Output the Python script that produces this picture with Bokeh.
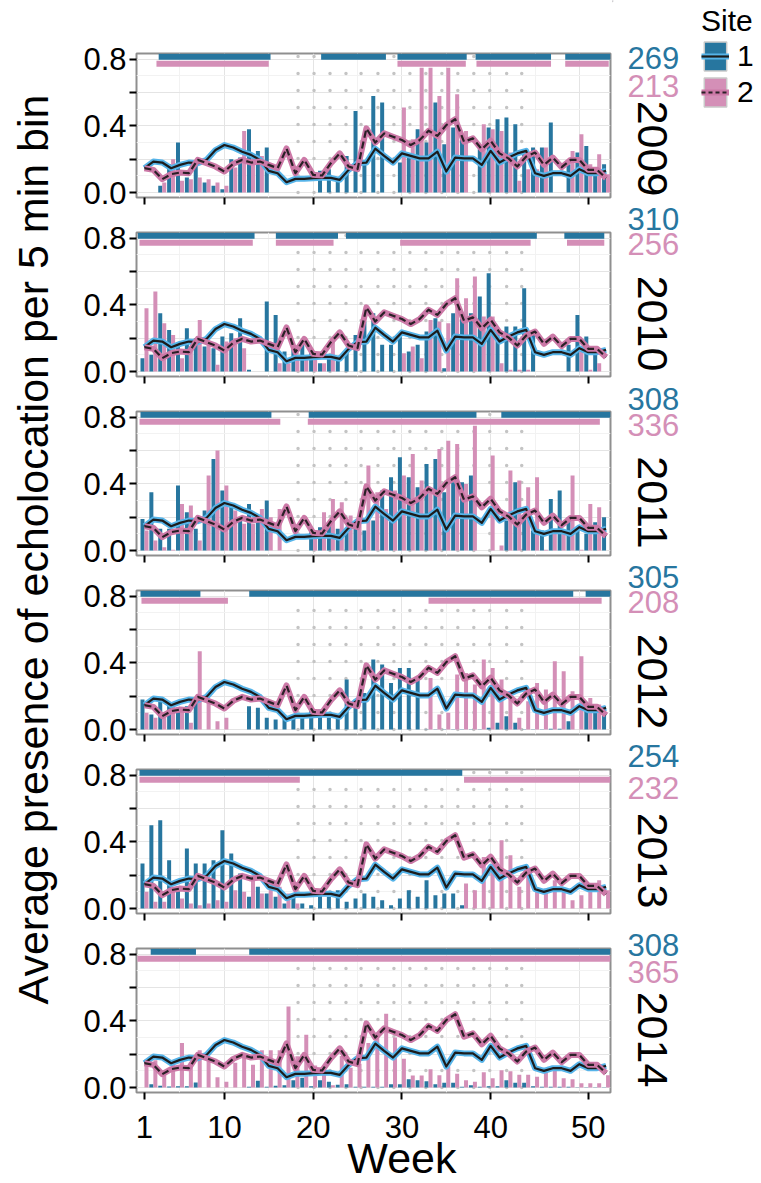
import math
import numpy as np
from bokeh.plotting import figure
from bokeh.layouts import column, row
from bokeh.core.properties import value
from bokeh.models import (FixedTicker, PrintfTickFormatter, Label, Legend, LegendItem, Range1d)
from bokeh.embed import file_html
from bokeh.resources import INLINE

WEEKS = list(range(1, 54))
YEARS = [2009, 2010, 2011, 2012, 2013, 2014]
N_SITE1 = [269, 310, 308, 305, 254, 308]
N_SITE2 = [213, 256, 336, 208, 232, 365]

AVG_SITE1 = [0.146, 0.186, 0.18, 0.146, 0.166, 0.18, 0.176, 0.196, 0.255, 0.285,
             0.27, 0.245, 0.226, 0.196, 0.13, 0.116, 0.062, 0.082, 0.082, 0.086,
             0.088, 0.088, 0.076, 0.136, 0.176, 0.18, 0.263, 0.22, 0.18, 0.235,
             0.22, 0.205, 0.205, 0.245, 0.126, 0.21, 0.205, 0.205, 0.166, 0.25,
             0.18, 0.21, 0.235, 0.25, 0.116, 0.1, 0.116, 0.116, 0.1, 0.14,
             0.116, 0.116, 0.13]
AVG_SITE2 = [0.146, 0.136, 0.08, 0.11, 0.12, 0.116, 0.196, 0.176, 0.156, 0.126,
             0.172, 0.196, 0.18, 0.186, 0.166, 0.146, 0.265, 0.116, 0.196, 0.106,
             0.102, 0.176, 0.235, 0.156, 0.14, 0.385, 0.3, 0.355, 0.335, 0.315,
             0.285, 0.315, 0.371, 0.34, 0.405, 0.44, 0.305, 0.325, 0.26, 0.311,
             0.235, 0.205, 0.156, 0.216, 0.24, 0.166, 0.21, 0.152, 0.196, 0.196,
             0.136, 0.136, 0.086]

N = None
S1_2009 = [N, N, 0.04, 0.17, 0.30, 0.09, 0.17, 0.06, 0.04, 0.02,
           0.20, 0.21, 0.38, 0.25, 0.27, N, N, N, N, N,
           0.13, 0.14, 0.07, 0.22, 0.49, 0.18, 0.58, 0.54, N, 0.18,
           0.21, 0.38, 0.30, 0.54, 0.29, 0.39, 0.32, N, 0.26, 0.39,
           0.44, 0.45, 0.41, 0.26, 0.27, 0.27, 0.42, N, 0.17, 0.24,
           0.28, 0.15, 0.17]
S2_2009 = [N, N, 0.06, 0.20, 0.07, 0.08, 0.09, 0.08, 0.06, 0.04,
           0.15, 0.37, 0.22, 0.22, N, N, N, N, N, N,
           N, N, N, N, N, N, N, N, N, 0.51,
           0.32, 0.75, 0.75, 0.58, 0.75, 0.59, 0.37, N, 0.41, 0.38,
           0.37, 0.24, 0.07, 0.14, 0.14, 0.27, N, N, 0.25, 0.35,
           0.17, 0.23, 0.11]
S1_2010 = [0.08, 0.10, 0.35, 0.25, 0.15, 0.26, 0.20, 0.15, 0.14, 0.21,
           0.23, 0.32, 0.01, N, 0.42, 0.34, 0.12, 0.15, 0.17, 0.13,
           0.05, 0.10, 0.07, 0.12, 0.22, 0.30, 0.35, 0.16, 0.16, 0.21,
           0.12, 0.16, 0.24, 0.32, 0.02, 0.35, 0.33, 0.35, 0.45, 0.59,
           0.23, 0.27, 0.27, 0.50, 0.22, N, N, N, 0.16, 0.34,
           0.21, 0.13, N]
S2_2010 = [0.38, 0.48, 0.29, 0.22, 0.08, 0.13, 0.31, 0.16, 0.04, 0.18,
           0.20, 0.14, N, N, N, 0.05, 0.05, 0.07, 0.07, 0.07,
           0.05, 0.20, N, N, N, N, N, N, N, 0.11,
           0.15, 0.08, 0.31, 0.30, 0.29, 0.56, 0.44, 0.57, 0.33, 0.33,
           0.05, 0.01, 0.01, 0.01, N, N, N, N, N, 0.12,
           0.01, 0.05, N]
S1_2011 = [0.19, 0.35, 0.13, 0.13, 0.39, 0.23, 0.13, 0.24, 0.55, 0.36,
           0.27, 0.18, 0.28, 0.21, 0.30, N, N, N, N, 0.11,
           0.14, 0.15, 0.13, 0.11, 0.13, 0.12, 0.18, 0.36, 0.44, 0.56,
           0.44, 0.38, 0.52, 0.55, 0.35, 0.41, 0.41, 0.45, N, N,
           N, 0.18, 0.41, 0.20, 0.12, 0.12, 0.31, 0.36, 0.20, 0.14,
           0.10, 0.17, 0.20]
S2_2011 = [0.12, 0.06, 0.02, 0.005, 0.28, 0.27, 0.06, 0.45, 0.60, 0.39,
           0.24, 0.16, 0.16, 0.25, 0.20, 0.25, N, N, N, 0.11,
           0.23, 0.31, 0.29, 0.21, 0.19, 0.51, 0.35, 0.25, 0.36, 0.45,
           0.58, 0.42, 0.37, 0.61, 0.66, 0.64, 0.40, 0.75, N, 0.57,
           0.03, 0.48, 0.42, 0.38, 0.44, 0.005, 0.12, 0.12, 0.45, 0.005,
           0.28, 0.26, N]
S1_2012 = [0.18, 0.09, 0.17, 0.16, 0.13, 0.14, 0.16, N, N, N,
           N, N, 0.14, 0.13, 0.07, 0.06, 0.07, 0.07, 0.07, 0.13,
           0.12, 0.07, 0.07, 0.30, 0.18, 0.22, 0.42, 0.39, 0.28, 0.37,
           0.37, 0.30, 0.002, 0.002, 0.002, 0.002, 0.002, 0.002, 0.002, 0.01,
           0.04, 0.08, 0.04, 0.002, 0.002, 0.002, 0.004, 0.004, 0.05, N,
           0.12, 0.12, 0.14]
S2_2012 = [0.10, 0.07, 0.10, 0.14, 0.13, 0.04, 0.47, 0.17, 0.05, 0.07,
           N, N, N, N, N, N, N, N, N, N,
           N, N, N, N, N, N, N, N, N, N,
           N, N, 0.31, 0.09, 0.10, 0.33, 0.34, 0.27, 0.42, 0.37,
           0.30, 0.18, 0.07, 0.17, 0.28, 0.24, 0.41, 0.35, 0.23, 0.44,
           0.19, 0.15, N]
S1_2013 = [0.27, 0.50, 0.53, 0.29, 0.11, 0.36, 0.27, 0.27, 0.29, 0.47,
           0.33, 0.21, 0.07, 0.13, 0.09, 0.07, 0.03, 0.07, 0.03, 0.02,
           0.08, 0.07, 0.11, 0.04, 0.06, 0.09, 0.07, 0.05, 0.02, 0.06,
           0.11, 0.07, 0.17, 0.08, 0.09, 0.09, 0.02, N, N, N,
           N, N, N, N, N, N, N, N, N, N,
           N, N, N]
S2_2013 = [0.10, 0.04, 0.04, 0.11, 0.06, 0.03, 0.02, 0.03, 0.05, 0.04,
           0.11, 0.10, 0.17, 0.09, 0.13, 0.13, 0.09, 0.03, N, N,
           N, N, N, N, N, N, N, N, N, N,
           N, N, N, N, N, N, 0.15, 0.11, 0.31, 0.27,
           0.41, 0.32, 0.13, 0.21, 0.10, 0.12, 0.17, 0.10, 0.05, 0.08,
           0.11, 0.17, 0.11]
S1_2014 = [N, 0.02, 0.01, 0.006, 0.008, 0.008, 0.03, N, N, N,
           N, N, 0.004, 0.04, 0.004, 0.01, 0.014, 0.044, 0.058, 0.008,
           0.044, 0.034, 0.016, 0.02, 0.004, 0.004, 0.004, 0.004, 0.02, 0.02,
           0.05, 0.044, 0.038, 0.02, 0.028, 0.028, 0.004, 0.014, 0.004, 0.008,
           0.008, 0.044, 0.028, 0.028, 0.008, 0.004, 0.004, 0.004, 0.004, 0.002,
           0.002, 0.002, 0.002]
S2_2014 = [0.168, 0.164, 0.082, 0.164, 0.267, 0.152, 0.224, 0.158, 0.062, 0.034,
           0.148, 0.198, 0.136, 0.224, 0.224, 0.224, 0.487, 0.188, 0.317, 0.132,
           0.118, 0.014, 0.19, 0.118, 0.142, 0.267, 0.303, 0.443, 0.301, 0.172,
           0.072, 0.072, 0.11, 0.074, 0.128, 0.082, 0.044, 0.034, 0.092, 0.056,
           0.104, 0.098, 0.076, 0.076, 0.064, 0.092, 0.108, 0.056, 0.05, 0.026,
           0.026, 0.026, 0.074]

# recording coverage (start week, end week)
COV1_2009 = [(2.6, 15.2), (20.9, 28.2), (29.5, 37.3), (38.3, 46.8), (48.4, 53.5)]
COV2_2009 = [(2.35, 15.0), (29.5, 37.2), (38.4, 46.8), (48.4, 53.3)]
COV1_2010 = [(0.25, 13.4), (15.8, 22.8), (23.7, 45.2), (48.3, 52.8)]
COV2_2010 = [(0.44, 13.2), (15.8, 22.3), (29.8, 44.5), (48.6, 52.8)]
COV1_2011 = [(0.55, 15.3), (19.5, 38.4), (41.2, 53.5)]
COV2_2011 = [(0.44, 16.3), (19.4, 52.3)]
COV1_2012 = [(0.55, 7.3), (12.8, 49.3), (50.7, 53.5)]
COV2_2012 = [(0.66, 10.4), (33.0, 52.5)]
COV1_2013 = [(0.44, 36.8)]
COV2_2013 = [(0.44, 18.5), (37.0, 53.5)]
COV1_2014 = [(1.7, 6.8), (12.8, 53.5)]
COV2_2014 = [(0.2, 53.5)]

X_TICKS = [1, 10, 20, 30, 40, 51]
X_TICK_LABELS = ["1", "10", "20", "30", "40", "50"]
DOT_WEEKS = [18.3, 20.1, 21.9, 23.7, 25.4, 27.3, 29.1, 30.9, 32.7, 34.5, 36.3, 38.1, 39.9, 41.8, 43.5]

SITE1_BARS = [S1_2009, S1_2010, S1_2011, S1_2012, S1_2013, S1_2014]
SITE2_BARS = [S2_2009, S2_2010, S2_2011, S2_2012, S2_2013, S2_2014]
SITE1_COV = [COV1_2009, COV1_2010, COV1_2011, COV1_2012, COV1_2013, COV1_2014]
SITE2_COV = [COV2_2009, COV2_2010, COV2_2011, COV2_2012, COV2_2013, COV2_2014]

# label placement in the right-hand strip (pixels from the top of the page)
COUNT_Y1 = [57, 218, 398, 576, 755, 944]
COUNT_Y2 = [85, 243, 424, 601, 787, 971]
YEAR_Y = [148, 323, 502, 681, 860, 1039]

BLUE = "#27769f"
PINK = "#d48fb7"
HALO1 = "#56B4E9"
HALO2 = "#CC79A7"
FONT = "Liberation Sans"

YMIN, YMAX = -0.03, 0.835
XMIN, XMAX = 0.1, 53.5
FRAME_H = 144
PAGE_W, PAGE_H = 761, 1183
LEFT_W = 64
PANEL_W = 548
RIGHT_W = PAGE_W - LEFT_W - PANEL_W


def arr(v):
    return np.array(v, dtype=float)


panels = []
for i, year in enumerate(YEARS):
    first = i == 0
    last = i == len(YEARS) - 1
    top_b = 53 if first else 14
    bot_b = 13 if last else 21
    p = figure(width=PANEL_W, height=top_b + FRAME_H + bot_b,
               x_range=Range1d(XMIN, XMAX), y_range=Range1d(YMIN, YMAX),
               output_backend="svg", toolbar_location=None,
               min_border_left=72, min_border_right=2,
               min_border_top=top_b, min_border_bottom=bot_b)
    p.outline_line_color = "#8f8f8f"
    p.outline_line_width = 2
    p.background_fill_color = "white"
    p.border_fill_color = "white"

    p.xgrid.ticker = FixedTicker(ticks=[10, 20, 30, 40, 50], minor_ticks=[5, 15, 25, 35, 45])
    p.xgrid.grid_line_color = "#e4e4e4"
    p.xgrid.minor_grid_line_color = "#f2f2f2"
    p.ygrid.ticker = FixedTicker(ticks=[0, 0.2, 0.4, 0.6, 0.8], minor_ticks=[0.1, 0.3, 0.5, 0.7])
    p.ygrid.grid_line_color = "#e4e4e4"
    p.ygrid.minor_grid_line_color = "#f2f2f2"

    # dotted season columns
    p.segment(x0=DOT_WEEKS, y0=[0.0] * len(DOT_WEEKS), x1=DOT_WEEKS, y1=[YMAX] * len(DOT_WEEKS),
              line_color="#c4c4c4", line_width=3.5, line_dash="0 17", line_cap="round")

    # coverage bars
    c1 = SITE1_COV[i]
    c2 = SITE2_COV[i]
    p.quad(left=[a for a, b in c1], right=[b for a, b in c1], bottom=0.797, top=0.833,
           fill_color=BLUE, line_color=None)
    p.quad(left=[a for a, b in c2], right=[b for a, b in c2], bottom=0.756, top=0.791,
           fill_color=PINK, line_color=None)

    wk = arr(WEEKS)
    p.vbar(x=wk - 0.225, width=0.45, top=arr(SITE1_BARS[i]), bottom=0,
           fill_color=BLUE, line_color=None)
    p.vbar(x=wk + 0.225, width=0.45, top=arr(SITE2_BARS[i]), bottom=0,
           fill_color=PINK, line_color=None)

    p.line(WEEKS, AVG_SITE1, line_color=HALO1, line_width=6, line_join="round")
    p.line(WEEKS, AVG_SITE1, line_color="#1c1c1c", line_width=2.2, line_join="round")
    p.line(WEEKS, AVG_SITE2, line_color=HALO2, line_width=6, line_join="round")
    p.line(WEEKS, AVG_SITE2, line_color="#2a2027", line_width=2.2, line_dash="7 4",
           line_join="round")

    # axes
    p.yaxis.ticker = FixedTicker(ticks=[0, 0.4, 0.8], minor_ticks=[0.2, 0.6])
    p.yaxis.formatter = PrintfTickFormatter(format="%.1f")
    p.xaxis.ticker = FixedTicker(ticks=X_TICKS, minor_ticks=[])
    for ax in (p.xaxis, p.yaxis):
        ax.axis_line_color = None
        ax.major_tick_line_color = "black"
        ax.major_tick_line_width = 2
        ax.major_tick_out = 7
        ax.major_tick_in = 0
        ax.minor_tick_line_color = "black"
        ax.minor_tick_line_width = 2
        ax.minor_tick_out = 7
        ax.minor_tick_in = 0
        ax.major_label_text_font = FONT
        ax.major_label_text_color = "black"
        ax.major_label_text_font_size = "31px"
    p.yaxis.major_label_standoff = 3
    p.xaxis.minor_tick_line_color = None
    p.xaxis.major_label_overrides = {t: "" for t in X_TICKS}
    p.xaxis.major_label_text_font_size = "0px"
    p.xaxis.major_label_standoff = 0
    panels.append(p)

used_h = sum(pp.height for pp in panels)
WF_H = PAGE_H - used_h

# week tick labels and x-axis title strip, sharing the panels' week scale
wf = figure(width=PANEL_W, height=WF_H, x_range=Range1d(XMIN, XMAX),
            y_range=Range1d(WF_H, 0), output_backend="svg", toolbar_location=None,
            min_border_left=72, min_border_right=2, min_border_top=0, min_border_bottom=0,
            x_axis_location=None, y_axis_location=None)
wf.grid.visible = False
wf.outline_line_color = None
wf.text(x=X_TICKS, y=[21] * len(X_TICKS), text=X_TICK_LABELS, text_font=value(FONT),
        text_font_size="31px", text_color="black", text_align="center", text_baseline="middle")
wf.text(x=[30.0], y=[52], text=["Week"], text_font=value(FONT),
        text_font_size="43px", text_color="black", text_align="center", text_baseline="middle")

# y-axis title strip
yl = figure(width=LEFT_W, height=PAGE_H, x_range=Range1d(0, LEFT_W), y_range=Range1d(PAGE_H, 0),
            output_backend="svg", toolbar_location=None, min_border=0,
            x_axis_location=None, y_axis_location=None)
yl.grid.visible = False
yl.outline_line_color = None
yl.add_layout(Label(x=32, y=549, text="Average presence of echolocation per 5 min bin",
                    text_font=FONT, text_font_size="43px", text_color="black",
                    text_align="center", text_baseline="middle", angle=math.pi / 2))

# right strip: counts, years, legend
rf = figure(width=RIGHT_W, height=PAGE_H, x_range=Range1d(0, RIGHT_W), y_range=Range1d(PAGE_H, 0),
            output_backend="svg", toolbar_location=None, min_border=0,
            x_axis_location=None, y_axis_location=None)
rf.grid.visible = False
rf.outline_line_color = None
for i, year in enumerate(YEARS):
    rf.add_layout(Label(x=15, y=COUNT_Y1[i], text=str(N_SITE1[i]), text_color=BLUE,
                        text_font=FONT, text_font_size="31px", text_align="left",
                        text_baseline="middle"))
    rf.add_layout(Label(x=15, y=COUNT_Y2[i], text=str(N_SITE2[i]), text_color=PINK,
                        text_font=FONT, text_font_size="31px", text_align="left",
                        text_baseline="middle"))
    rf.add_layout(Label(x=40, y=YEAR_Y[i], text=str(year), text_color="black",
                        text_font=FONT, text_font_size="43px", text_align="center",
                        text_baseline="middle", angle=-math.pi / 2))

# legend keys (off-screen glyphs, drawn only inside the legend)
kb1 = rf.vbar(x=[-500], top=[1], width=1, fill_color=BLUE, line_color="#c9c9c9", line_width=1.5)
kh1 = rf.line(x=[-500, -499], y=[0, 0], line_color=HALO1, line_width=6)
kl1 = rf.line(x=[-500, -499], y=[0, 0], line_color="#1c1c1c", line_width=2.2)
kb2 = rf.vbar(x=[-500], top=[1], width=1, fill_color=PINK, line_color="#c9c9c9", line_width=1.5)
kh2 = rf.line(x=[-500, -499], y=[0, 0], line_color=HALO2, line_width=6)
kl2 = rf.line(x=[-500, -499], y=[0, 0], line_color="#2a2027", line_width=2.2, line_dash="4 3")
legend = Legend(items=[LegendItem(label="1", renderers=[kb1, kh1, kl1]),
                       LegendItem(label="2", renderers=[kb2, kh2, kl2])],
                location="top_right", title="Site",
                title_text_font=FONT, title_text_font_size="30px", title_text_color="black",
                title_text_font_style="normal", title_standoff=0,
                label_text_font=FONT, label_text_font_size="30px", label_text_color="black",
                glyph_width=28, glyph_height=36, label_standoff=8,
                spacing=0, padding=0, margin=4,
                border_line_color=None, background_fill_alpha=0)
rf.add_layout(legend)

layout = row(yl, column(*panels, wf), rf)
open("out.html", "w").write(file_html(layout, INLINE))
